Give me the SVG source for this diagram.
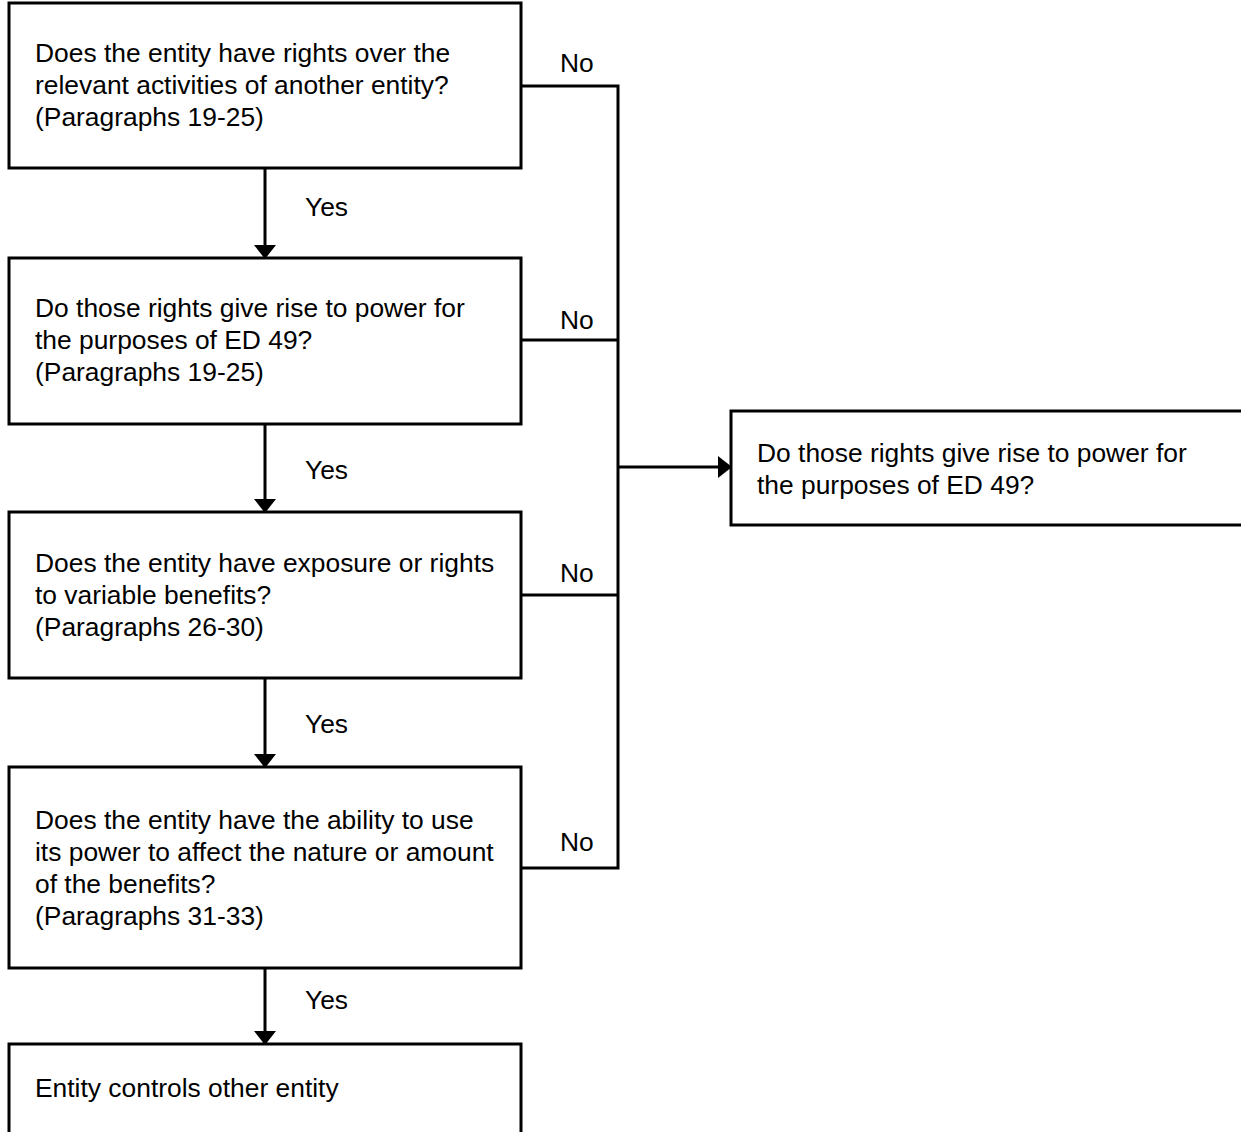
<svg xmlns="http://www.w3.org/2000/svg" width="1241" height="1132" viewBox="0 0 1241 1132">
<defs>
<style>
.box{fill:#fff;stroke:#000;stroke-width:3}
.t{font-family:"Liberation Sans",Arial,sans-serif;font-size:26.4px;fill:#000}
.c{fill:none;stroke:#000;stroke-width:3}
</style>
<marker id="ah" viewBox="0 0 14 22" refX="13" refY="11" markerWidth="14" markerHeight="22" markerUnits="userSpaceOnUse" orient="auto">
<path d="M0,0 L14,11 L0,22 z" fill="#000"/>
</marker>
</defs>
<rect width="1241" height="1132" fill="#fff"/>
<g id="connectors">
<line class="c" x1="265" y1="168" x2="265" y2="258" marker-end="url(#ah)"/>
<line class="c" x1="265" y1="424" x2="265" y2="512" marker-end="url(#ah)"/>
<line class="c" x1="265" y1="678" x2="265" y2="767" marker-end="url(#ah)"/>
<line class="c" x1="265" y1="968" x2="265" y2="1044" marker-end="url(#ah)"/>
<polyline class="c" points="521,86 618,86 618,868 521,868"/>
<line class="c" x1="521" y1="340" x2="618" y2="340"/>
<line class="c" x1="521" y1="595" x2="618" y2="595"/>
<line class="c" x1="618" y1="467" x2="731" y2="467" marker-end="url(#ah)"/>
<text class="t" x="305" y="216">Yes</text>
<text class="t" x="305" y="479">Yes</text>
<text class="t" x="305" y="733">Yes</text>
<text class="t" x="305" y="1009">Yes</text>
<text class="t" x="560" y="72">No</text>
<text class="t" x="560" y="329">No</text>
<text class="t" x="560" y="582">No</text>
<text class="t" x="560" y="851">No</text>
</g>
<g id="n1">
<rect class="box" x="9" y="3" width="512" height="165"/>
<text class="t" x="35" y="62">Does the entity have rights over the</text>
<text class="t" x="35" y="94">relevant activities of another entity?</text>
<text class="t" x="35" y="126">(Paragraphs 19-25)</text>
</g>
<g id="n2">
<rect class="box" x="9" y="258" width="512" height="166"/>
<text class="t" x="35" y="317">Do those rights give rise to power for</text>
<text class="t" x="35" y="349">the purposes of ED 49?</text>
<text class="t" x="35" y="381">(Paragraphs 19-25)</text>
</g>
<g id="n3">
<rect class="box" x="9" y="512" width="512" height="166"/>
<text class="t" x="35" y="572">Does the entity have exposure or rights</text>
<text class="t" x="35" y="604">to variable benefits?</text>
<text class="t" x="35" y="636">(Paragraphs 26-30)</text>
</g>
<g id="n4">
<rect class="box" x="9" y="767" width="512" height="201"/>
<text class="t" x="35" y="829">Does the entity have the ability to use</text>
<text class="t" x="35" y="861">its power to affect the nature or amount</text>
<text class="t" x="35" y="893">of the benefits?</text>
<text class="t" x="35" y="925">(Paragraphs 31-33)</text>
</g>
<g id="n5">
<rect class="box" x="9" y="1044" width="512" height="120"/>
<text class="t" x="35" y="1097">Entity controls other entity</text>
</g>
<g id="n6">
<rect class="box" x="731" y="411" width="540" height="114"/>
<text class="t" x="757" y="462">Do those rights give rise to power for</text>
<text class="t" x="757" y="494">the purposes of ED 49?</text>
</g>
</svg>
